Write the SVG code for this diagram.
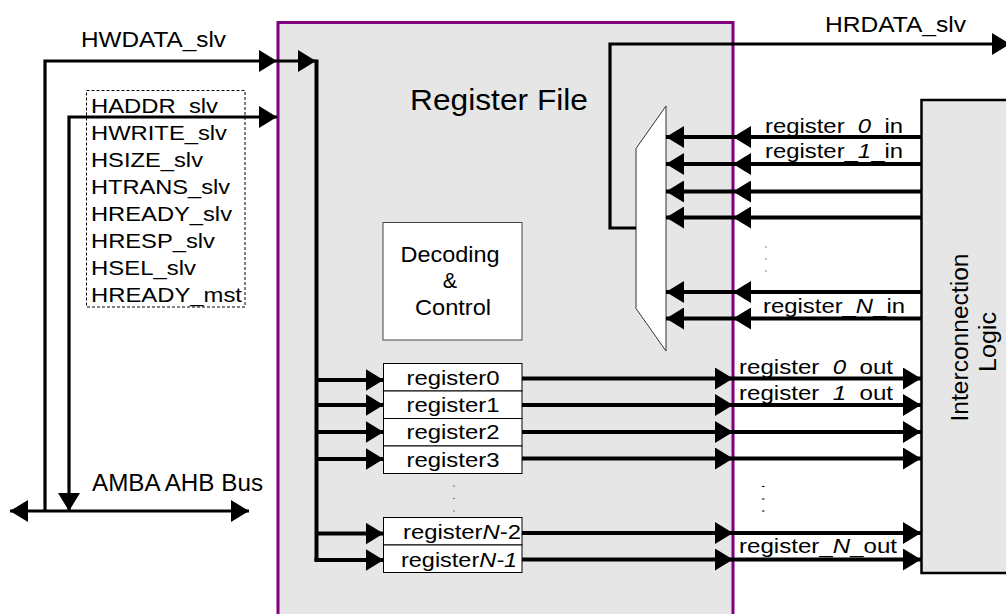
<svg xmlns="http://www.w3.org/2000/svg" width="1006" height="614" viewBox="0 0 1006 614">
  <style>
    text { font-family: "Liberation Sans", Arial, sans-serif; fill: #000; }
    .t20 { font-size: 21px; }
    .t21 { font-size: 21.5px; }
    .t22 { font-size: 22px; }
    .t23 { font-size: 23px; }
    .mid { text-anchor: middle; }
    .it { font-style: italic; }
    .bus { fill: none; stroke: #000; stroke-width: 4; }
    .sig { fill: none; stroke: #000; stroke-width: 3.2; }
    .arr { marker-end: url(#ah); }
    .box { fill: #fff; stroke: #000; stroke-width: 1; }
    .dot { stroke: #000; stroke-width: 1; }
  </style>
  <defs>
    <marker id="ah" markerUnits="userSpaceOnUse" markerWidth="18" markerHeight="22" refX="18" refY="11" orient="auto-start-reverse">
      <path d="M0,0 L18,11 L0,22 Z" fill="#000"/>
    </marker>
  </defs>

  <rect width="1006" height="614" fill="#fff"/>

  <!-- Register File block -->
  <g id="register-file">
    <rect x="278" y="22.5" width="455" height="610" fill="#e6e6e6" stroke="#800080" stroke-width="3"/>
    <text x="410" y="110" style="font-size:30px" textLength="178" lengthAdjust="spacingAndGlyphs">Register File</text>
  </g>

  <!-- Interconnection Logic block -->
  <g id="interconnection-logic">
    <rect x="921.5" y="100" width="100" height="473" fill="#e6e6e6" stroke="#000" stroke-width="2.5"/>
    <text class="t23 mid" transform="translate(967.5,337.5) rotate(-90)" textLength="168" lengthAdjust="spacingAndGlyphs">Interconnection</text>
    <text class="t23 mid" transform="translate(995.5,342) rotate(-90)" textLength="60" lengthAdjust="spacingAndGlyphs">Logic</text>
  </g>

  <!-- Decoding and control -->
  <g id="decoding-control">
    <rect x="383" y="222.5" width="139" height="117.5" fill="#fff" stroke="#444" stroke-width="1"/>
    <text class="t21 mid" x="450" y="262" textLength="99" lengthAdjust="spacingAndGlyphs">Decoding</text>
    <text class="t21 mid" x="450" y="288">&amp;</text>
    <text class="t21 mid" x="453" y="315" textLength="76" lengthAdjust="spacingAndGlyphs">Control</text>
  </g>

  <!-- Register bank -->
  <g id="registers">
    <rect class="box" x="383.5" y="363.5" width="138.5" height="27.5"/>
    <rect class="box" x="383.5" y="391" width="138.5" height="27.5"/>
    <rect class="box" x="383.5" y="418.5" width="138.5" height="27.5"/>
    <rect class="box" x="383.5" y="446" width="138.5" height="27.5"/>
    <rect class="box" x="383.5" y="517.5" width="138.5" height="27.5"/>
    <rect class="box" x="383.5" y="545" width="138.5" height="27.5"/>
    <text class="t20 mid" x="453" y="385" textLength="93" lengthAdjust="spacingAndGlyphs">register0</text>
    <text class="t20 mid" x="453" y="411.5" textLength="93" lengthAdjust="spacingAndGlyphs">register1</text>
    <text class="t20 mid" x="453" y="439" textLength="93" lengthAdjust="spacingAndGlyphs">register2</text>
    <text class="t20 mid" x="453" y="466.5" textLength="93" lengthAdjust="spacingAndGlyphs">register3</text>
    <text class="t20" x="403" y="539" textLength="118" lengthAdjust="spacingAndGlyphs">register<tspan class="it">N</tspan>-2</text>
    <text class="t20" x="401" y="566.5" textLength="116" lengthAdjust="spacingAndGlyphs">register<tspan class="it">N-1</tspan></text>
    <line class="dot" x1="453.5" y1="486" x2="454.5" y2="486"/>
    <line class="dot" x1="453.5" y1="498.5" x2="454.5" y2="498.5"/>
    <line class="dot" x1="453.5" y1="511" x2="454.5" y2="511"/>
  </g>

  <!-- Read multiplexer -->
  <g id="read-mux">
    <polygon points="636,148.5 666,106 666,351 636,308.5" fill="#fff" stroke="#333" stroke-width="1"/>
  </g>

  <!-- AHB slave signal list -->
  <g id="ahb-signals">
    <rect x="86.5" y="90.5" width="158.5" height="216.5" fill="none" stroke="#000" stroke-width="1" stroke-dasharray="3,2"/>
    <text class="t20" x="91" y="113" textLength="127" lengthAdjust="spacingAndGlyphs">HADDR_slv</text>
    <text class="t20" x="91" y="140" textLength="136" lengthAdjust="spacingAndGlyphs">HWRITE_slv</text>
    <text class="t20" x="91" y="167" textLength="112" lengthAdjust="spacingAndGlyphs">HSIZE_slv</text>
    <text class="t20" x="91" y="194" textLength="139" lengthAdjust="spacingAndGlyphs">HTRANS_slv</text>
    <text class="t20" x="91" y="221" textLength="141" lengthAdjust="spacingAndGlyphs">HREADY_slv</text>
    <text class="t20" x="91" y="248" textLength="124" lengthAdjust="spacingAndGlyphs">HRESP_slv</text>
    <text class="t20" x="91" y="275" textLength="105" lengthAdjust="spacingAndGlyphs">HSEL_slv</text>
    <text class="t20" x="91" y="302" textLength="151" lengthAdjust="spacingAndGlyphs">HREADY_mst</text>
  </g>

  <!-- Bus and signal labels -->
  <g id="labels">
    <text class="t22" x="81" y="46.5" textLength="145" lengthAdjust="spacingAndGlyphs">HWDATA_slv</text>
    <text class="t22" x="825" y="31.5" textLength="141" lengthAdjust="spacingAndGlyphs">HRDATA_slv</text>
    <text class="t23" x="92" y="491" textLength="171" lengthAdjust="spacingAndGlyphs">AMBA AHB Bus</text>
    <text class="t20" x="765" y="132.5" textLength="138" lengthAdjust="spacingAndGlyphs">register_<tspan class="it">0</tspan>_in</text>
    <text class="t20" x="765" y="157.5" textLength="138" lengthAdjust="spacingAndGlyphs">register_<tspan class="it">1</tspan>_in</text>
    <text class="t20" x="763" y="313" textLength="142" lengthAdjust="spacingAndGlyphs">register_<tspan class="it">N</tspan>_in</text>
    <text class="t20" x="739" y="374" textLength="154" lengthAdjust="spacingAndGlyphs">register_<tspan class="it">0</tspan>_out</text>
    <text class="t20" x="739" y="400" textLength="154" lengthAdjust="spacingAndGlyphs">register_<tspan class="it">1</tspan>_out</text>
    <text class="t20" x="739" y="552.5" textLength="158" lengthAdjust="spacingAndGlyphs">register_<tspan class="it">N</tspan>_out</text>
    <line class="dot" x1="765.5" y1="247" x2="766.5" y2="247"/>
    <line class="dot" x1="765.5" y1="259" x2="766.5" y2="259"/>
    <line class="dot" x1="765.5" y1="271" x2="766.5" y2="271"/>
    <line class="dot" x1="762" y1="486.5" x2="764.5" y2="486.5"/>
    <line class="dot" x1="762" y1="499" x2="764.5" y2="499"/>
    <line class="dot" x1="762" y1="511" x2="764.5" y2="511"/>
  </g>

  <!-- Connectors -->
  <g id="connectors">
    <!-- AMBA AHB bus -->
    <path class="sig" d="M10,511 L249,511" marker-start="url(#ah)" marker-end="url(#ah)"/>
    <!-- HWDATA into register file -->
    <path class="sig arr" d="M45,511 L45,61 L277,61"/>
    <path class="sig arr" d="M277,61 L316,61"/>
    <!-- control signals -->
    <path class="sig" d="M69,511 L69,117 L277,117" marker-start="url(#ah)" marker-end="url(#ah)"/>
    <!-- internal write-data bus -->
    <path class="bus" d="M316.5,59.5 L316.5,561"/>
    <path class="bus arr" d="M316,380 L383.5,380"/>
    <path class="bus arr" d="M316,405 L383.5,405"/>
    <path class="bus arr" d="M316,432 L383.5,432"/>
    <path class="bus arr" d="M316,459 L383.5,459"/>
    <path class="bus arr" d="M316,533.5 L383.5,533.5"/>
    <path class="bus arr" d="M314.5,560 L383.5,560"/>
    <!-- register outputs -->
    <path class="bus arr" d="M522,378.5 L733,378.5"/>
    <path class="bus arr" d="M733,378.5 L921,378.5"/>
    <path class="bus arr" d="M522,405 L733,405"/>
    <path class="bus arr" d="M733,405 L921,405"/>
    <path class="bus arr" d="M522,432 L733,432"/>
    <path class="bus arr" d="M733,432 L921,432"/>
    <path class="bus arr" d="M522,458.5 L733,458.5"/>
    <path class="bus arr" d="M733,458.5 L921,458.5"/>
    <path class="bus arr" d="M522,533 L733,533"/>
    <path class="bus arr" d="M733,533 L921,533"/>
    <path class="bus arr" d="M522,559.5 L733,559.5"/>
    <path class="bus arr" d="M733,559.5 L921,559.5"/>
    <!-- register inputs to the read mux -->
    <path class="bus arr" d="M921,137 L733,137"/>
    <path class="bus arr" d="M733,137 L666,137"/>
    <path class="bus arr" d="M921,164 L733,164"/>
    <path class="bus arr" d="M733,164 L666,164"/>
    <path class="bus arr" d="M921,191.5 L733,191.5"/>
    <path class="bus arr" d="M733,191.5 L666,191.5"/>
    <path class="bus arr" d="M921,217.5 L733,217.5"/>
    <path class="bus arr" d="M733,217.5 L666,217.5"/>
    <path class="bus arr" d="M921,292 L733,292"/>
    <path class="bus arr" d="M733,292 L666,292"/>
    <path class="bus arr" d="M921,318.5 L733,318.5"/>
    <path class="bus arr" d="M733,318.5 L666,318.5"/>
    <!-- HRDATA out of the mux -->
    <path class="sig arr" d="M636,228 L610,228 L610,44 L1010,44"/>
  </g>
</svg>
